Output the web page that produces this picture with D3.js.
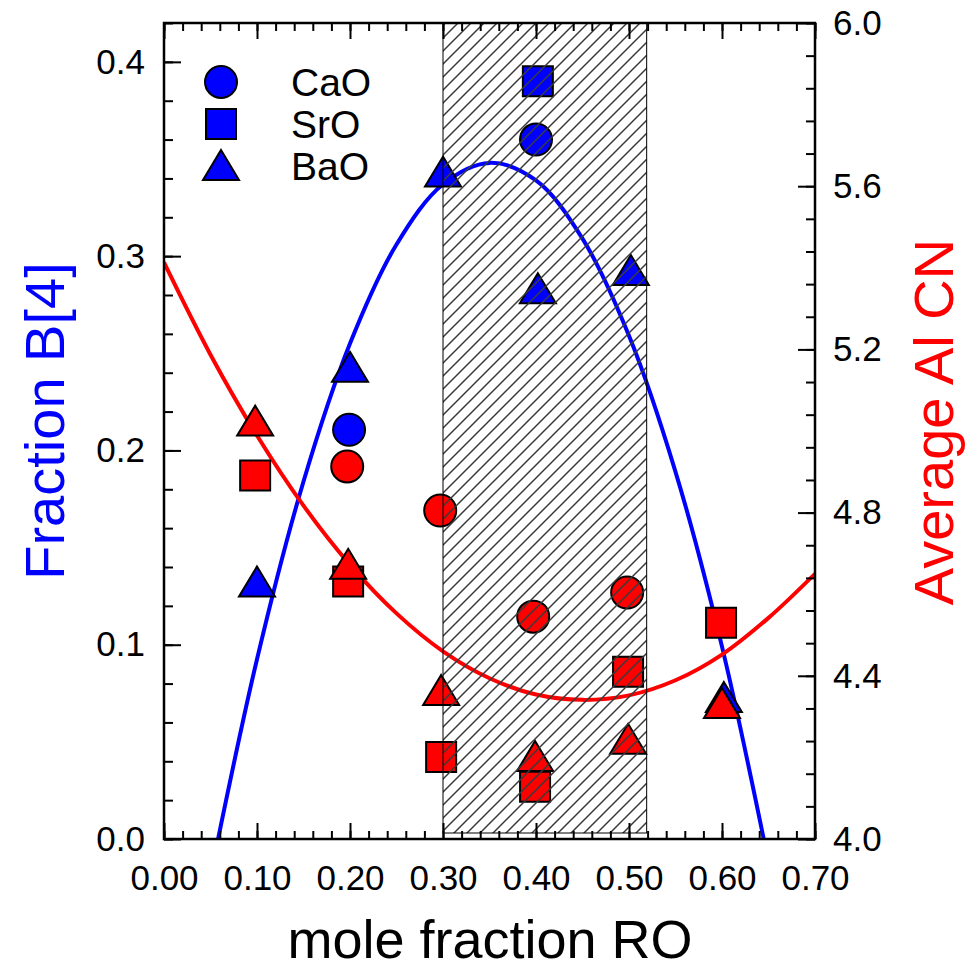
<!DOCTYPE html>
<meta charset="utf-8">
<style>
body { margin: 0; background: #fff; }
text { font-family: "Liberation Sans", Arial, sans-serif; }
.tick text { font-size: 35px; fill: #000; }
.tick line { stroke: #000; stroke-width: 2px; }
</style>
<body>
<script src="https://d3js.org/d3.v7.min.js"></script>
<script>

// x positions (mole fraction RO) and values
const b4CaO = [[0.199, 0.2106], [0.400, 0.360]];
const b4SrO = [[0.402, 0.390]];
const b4BaO = [[0.100, 0.132], [0.200, 0.2425], [0.300, 0.343], [0.402, 0.283], [0.502, 0.2924], [0.602, 0.0726]];

const cnCaO = [[0.197, 4.913], [0.297, 4.805], [0.397, 4.545], [0.498, 4.604]];
const cnSrO = [[0.098, 4.891], [0.198, 4.631], [0.298, 4.201], [0.399, 4.128], [0.499, 4.410], [0.599, 4.530]];
const cnBaO = [[0.098, 5.023], [0.198, 4.672], [0.298, 4.363], [0.399, 4.201], [0.499, 4.243], [0.600, 4.331]];

// fitted curves, points
const b4Fit = [[0.05, -0.019], [0.1, 0.0925], [0.15, 0.184], [0.2, 0.255], [0.25, 0.306], [0.3, 0.337],
  [0.35, 0.348], [0.4, 0.339], [0.45, 0.309], [0.5, 0.259], [0.55, 0.189], [0.6, 0.099], [0.65, -0.012]];
const cnFit = [[0, 5.413], [0.05, 5.187], [0.1, 4.989], [0.15, 4.817], [0.2, 4.672], [0.25, 4.553], [0.3, 4.460],
  [0.35, 4.394], [0.4, 4.354], [0.45, 4.341], [0.5, 4.352], [0.55, 4.389], [0.6, 4.452], [0.65, 4.542], [0.7, 4.650]];

// shaded composition window
const bandRange = [0.30, 0.519];

const legendNames = ["CaO", "SrO", "BaO"];

const xTicks = [0, 0.1, 0.2, 0.3, 0.4, 0.5, 0.6, 0.7];
const yLTicks = [0, 0.1, 0.2, 0.3, 0.4];
const yRTicks = [4.0, 4.4, 4.8, 5.2, 5.6, 6.0];

const W = 965, H = 971;
const L = 164, R = 815, T = 23, B = 839;

const svg = d3.select("body").append("svg")
    .attr("width", W)
    .attr("height", H);

const x = d3.scaleLinear().domain([0, 0.7]).range([L, R]);
const yL = d3.scaleLinear().domain([0, 0.42]).range([B, T]);
const yR = d3.scaleLinear().domain([4, 6]).range([B, T]);

// hatch pattern
const defs = svg.append("defs");
const pat = defs.append("pattern")
    .attr("id", "hatch")
    .attr("patternUnits", "userSpaceOnUse")
    .attr("width", 13).attr("height", 13);
pat.append("path")
    .attr("d", "M0,13 L13,0 M-3,3 L3,-3 M10,16 L16,10")
    .attr("stroke", "#3a3a3a")
    .attr("stroke-width", 1.5);

defs.append("clipPath").attr("id", "clip")
  .append("rect")
    .attr("x", L).attr("y", T)
    .attr("width", R - L).attr("height", B - T);

// marker shapes
function shape(kind) {
  if (kind === "circle") return d3.symbol(d3.symbolCircle, Math.PI * 16 * 16)();
  if (kind === "square") return "M-15,-15H15V15H-15Z";
  return "M0,-16L18,14H-18Z";
}

const plot = svg.append("g").attr("clip-path", "url(#clip)");

const line = d3.line().curve(d3.curveCatmullRom);

plot.append("path")
    .attr("d", line(b4Fit.map(d => [x(d[0]), yL(d[1])])))
    .attr("fill", "none")
    .attr("stroke", "#0000ff")
    .attr("stroke-width", 4);

plot.append("path")
    .attr("d", line(cnFit.map(d => [x(d[0]), yR(d[1])])))
    .attr("fill", "none")
    .attr("stroke", "#ff0000")
    .attr("stroke-width", 4);

function drawMarks(data, yScale, kind, color) {
  svg.append("g").selectAll("path")
    .data(data)
    .enter()
    .append("path")
      .attr("d", shape(kind))
      .attr("transform", d => "translate(" + x(d[0]) + "," + yScale(d[1]) + ")")
      .attr("fill", color)
      .attr("stroke", "#000")
      .attr("stroke-width", 2);
}

drawMarks(b4CaO, yL, "circle", "#0000ff");
drawMarks(b4SrO, yL, "square", "#0000ff");
drawMarks(b4BaO, yL, "triangle", "#0000ff");
drawMarks(cnCaO, yR, "circle", "#ff0000");
drawMarks(cnSrO, yR, "square", "#ff0000");
drawMarks(cnBaO, yR, "triangle", "#ff0000");

// hatched band sits on top of the markers
svg.append("rect")
    .attr("x", x(bandRange[0]))
    .attr("y", T)
    .attr("width", x(bandRange[1]) - x(bandRange[0]))
    .attr("height", B - T - 6)
    .attr("fill", "url(#hatch)")
    .attr("stroke", "#000")
    .attr("stroke-width", 1);

// axes: minor ticks then major ticks, all pointing inward
function minor(axis, scale, step) {
  const [a, b] = scale.domain();
  const n = Math.round((b - a) / step);
  return axis.tickValues(d3.range(n + 1).map(i => a + i * step)).tickFormat("").tickSizeOuter(0);
}

svg.append("g").attr("transform", "translate(0," + B + ")")
    .call(minor(d3.axisBottom(x), x, 0.02).tickSizeInner(-8));
svg.append("g").attr("transform", "translate(0," + B + ")")
    .call(d3.axisBottom(x).tickValues(xTicks).tickFormat(d3.format(".2f"))
      .tickSizeInner(-16).tickSizeOuter(0).tickPadding(26));

svg.append("g").attr("transform", "translate(0," + T + ")")
    .call(minor(d3.axisTop(x), x, 0.02).tickSizeInner(-8));
svg.append("g").attr("transform", "translate(0," + T + ")")
    .call(d3.axisTop(x).tickValues(xTicks).tickFormat("").tickSizeInner(-16).tickSizeOuter(0));

svg.append("g").attr("transform", "translate(" + L + ",0)")
    .call(minor(d3.axisLeft(yL), yL, 0.02).tickSizeInner(-9));
svg.append("g").attr("transform", "translate(" + L + ",0)")
    .call(d3.axisLeft(yL).tickValues(yLTicks).tickFormat(d3.format(".1f"))
      .tickSizeInner(-17).tickSizeOuter(0).tickPadding(19));

svg.append("g").attr("transform", "translate(" + R + ",0)")
    .call(minor(d3.axisRight(yR), yR, 0.08).tickSizeInner(-9));
svg.append("g").attr("transform", "translate(" + R + ",0)")
    .call(d3.axisRight(yR).tickValues(yRTicks).tickFormat(d3.format(".1f"))
      .tickSizeInner(-17).tickSizeOuter(0).tickPadding(18));

svg.selectAll(".domain").remove();

// frame
svg.append("rect")
    .attr("x", L).attr("y", T)
    .attr("width", R - L).attr("height", B - T)
    .attr("fill", "none")
    .attr("stroke", "#000")
    .attr("stroke-width", 2.5);

// legend
const legendKinds = ["circle", "square", "triangle"];
const lg = svg.append("g");
legendNames.forEach((name, i) => {
  const yy = 82 + i * 42;
  lg.append("path")
      .attr("d", shape(legendKinds[i]))
      .attr("transform", "translate(221," + yy + ")")
      .attr("fill", "#0000ff")
      .attr("stroke", "#000")
      .attr("stroke-width", 2);
  lg.append("text")
      .attr("x", 291).attr("y", yy)
      .attr("dy", "0.36em")
      .style("font-size", "39px")
      .text(name);
});

// axis titles
svg.append("text")
    .attr("transform", "translate(64,421) rotate(-90)")
    .attr("text-anchor", "middle")
    .style("font-size", "56px")
    .style("fill", "#0000ff")
    .text("Fraction B[4]");

svg.append("text")
    .attr("transform", "translate(953,422) rotate(-90)")
    .attr("text-anchor", "middle")
    .style("font-size", "56px")
    .style("fill", "#ff0000")
    .text("Average Al CN");

svg.append("text")
    .attr("x", 490).attr("y", 958)
    .attr("text-anchor", "middle")
    .style("font-size", "54px")
    .text("mole fraction RO");

</script>
</body>
